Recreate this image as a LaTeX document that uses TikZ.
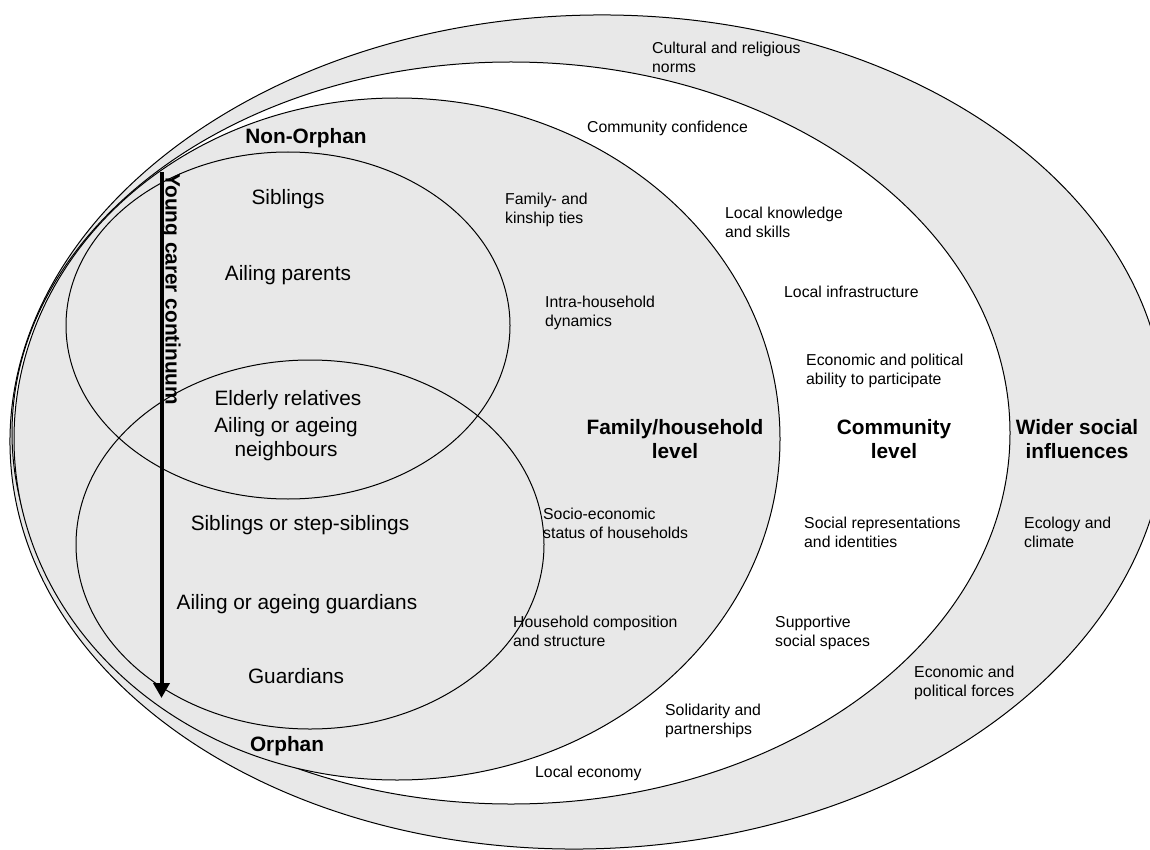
\documentclass[tikz,border=0pt]{standalone}
\usepackage{fontspec}
\setmainfont{Liberation Sans}
\usetikzlibrary{arrows.meta}
\definecolor{ringgray}{RGB}{232,232,232}
\begin{document}
\begin{tikzpicture}[x=1pt,y=-1pt,
  ring/.style={draw=black, line width=1pt},
  small/.style={font=\fontsize{15.8}{19}\selectfont, align=left, inner sep=0pt, anchor=base west},
  big/.style={font=\fontsize{20.8}{24}\selectfont, align=center, inner sep=0pt, anchor=base},
  bigb/.style={font=\fontsize{20.8}{24}\selectfont\bfseries, align=center, inner sep=0pt, anchor=base},
  continuum/.style={line width=4pt, -{Triangle[width=16pt,length=15pt]}}]
\useasboundingbox (0,0) rectangle (1150,850);
\clip (0,0) rectangle (1150,850);

% nested levels: wider society (slightly tilted, touching the right edge), community, family/household
\filldraw[ring, fill=ringgray, rotate around={2:(588,432)}] (588,432) ellipse [x radius=578.2pt, y radius=416.8pt];
\filldraw[ring, fill=white] (511,433) ellipse [x radius=499pt, y radius=371pt];
\filldraw[ring, fill=ringgray] (397,439) ellipse [x radius=383pt, y radius=341pt];
% non-orphan and orphan households
\draw[ring] (288,325.5) ellipse [x radius=222pt, y radius=173.5pt];
\draw[ring] (310,544.5) ellipse [x radius=234pt, y radius=184.5pt];

% young carer continuum
\coordinate (ctop) at (161.5,172);
\coordinate (cbot) at (161.5,698);
\draw[continuum] (ctop) -- (cbot);
\node[font=\fontsize{20.8}{24}\selectfont\bfseries, rotate=-90, anchor=base west, inner sep=0pt] (cont) at (165.5,173) {Young carer continuum};

% household members (multi-line nodes sit on their last baseline)
\node[bigb] (nonorph) at (306,144) {Non-Orphan};
\node[big] (sib) at (288,205) {Siblings};
\node[big] (ailpar) at (288,280) {Ailing parents};
\node[big] (elder) at (288,405) {Elderly relatives};
\node[big] (neigh) at (286,456) {Ailing or ageing\\neighbours};
\node[big] (stepsib) at (300,530) {Siblings or step-siblings};
\node[big] (ailguard) at (297,609) {Ailing or ageing guardians};
\node[big] (guard) at (296,683) {Guardians};
\node[bigb] (orph) at (287,751) {Orphan};

% level titles
\node[bigb] (famlvl) at (675,458) {Family/household\\level};
\node[bigb] (comlvl) at (894,458) {Community\\level};
\node[bigb] (widlvl) at (1077,458) {Wider social\\influences};

% family/household factors
\node[small] (kin) at (505,224) {Family- and\\kinship ties};
\node[small] (intra) at (545,326) {Intra-household\\dynamics};
\node[small] (socio) at (543,538) {Socio-economic\\status of households};
\node[small] (compo) at (513,646) {Household composition\\and structure};

% community factors
\node[small] (confid) at (587,133) {Community confidence};
\node[small] (know) at (725,237) {Local knowledge\\and skills};
\node[small] (infra) at (784,297) {Local infrastructure};
\node[small] (abil) at (806,384) {Economic and political\\ability to participate};
\node[small] (repr) at (804,547) {Social representations\\and identities};
\node[small] (spaces) at (775,646) {Supportive\\social spaces};
\node[small] (solid) at (665,734) {Solidarity and\\partnerships};
\node[small] (econ) at (535,777) {Local economy};

% wider social influences
\node[small] (norms) at (652,73) {Cultural and religious\\norms};
\node[small] (ecol) at (1024,547) {Ecology and\\climate};
\node[small] (forces) at (914,696) {Economic and\\political forces};
\end{tikzpicture}
\end{document}
